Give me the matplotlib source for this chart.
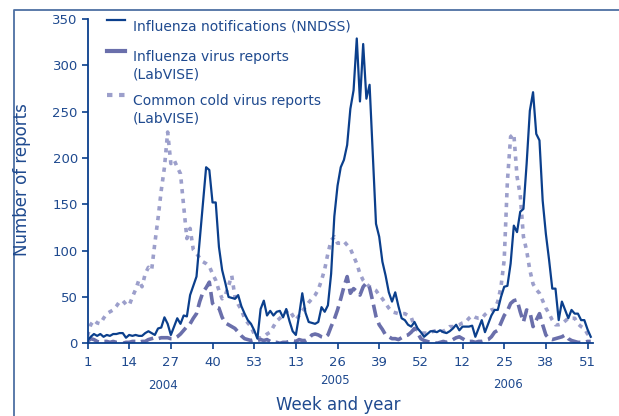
import numpy as np
import matplotlib.pyplot as plt
from matplotlib.lines import Line2D
import matplotlib.transforms as mtransforms

# weekly counts, 2004 weeks 1-53, 2005 weeks 1-53, 2006 weeks 1-52
nndss_2004 = [3, 7, 10, 8, 10, 7, 9, 8, 10, 10, 11, 11, 6, 9, 8, 9, 8, 8, 11, 13,
              11, 9, 16, 17, 28, 21, 9, 18, 27, 21, 30, 29, 52, 62, 72, 111, 150, 190, 187, 152,
              152, 104, 79, 65, 50, 49, 48, 52, 40, 32, 25, 21, 14]
nndss_2005 = [5, 37, 46, 30, 35, 30, 34, 35, 28, 37, 24, 13, 9, 30, 54, 33, 23, 22, 21, 23,
              39, 34, 41, 75, 137, 170, 190, 198, 214, 253, 273, 329, 261, 323, 264, 279, 205, 129, 115, 88,
              73, 55, 45, 55, 40, 27, 25, 20, 18, 23, 16, 12, 7]
nndss_2006 = [10, 13, 13, 12, 14, 12, 11, 13, 16, 20, 14, 18, 18, 18, 19, 7, 16, 25, 12, 21,
              30, 36, 36, 50, 61, 62, 86, 127, 120, 142, 145, 194, 251, 271, 226, 219, 154, 118, 90, 59,
              59, 25, 45, 36, 27, 36, 32, 32, 25, 25, 15, 7]

flu_2004 = [2, 5, 4, 2, 1, 2, 2, 1, 2, 1, 1, 0, 1, 1, 2, 2, 1, 2, 2, 4,
            5, 6, 5, 6, 6, 6, 5, 5, 7, 10, 14, 18, 21, 27, 32, 45, 55, 60, 66, 43,
            39, 38, 28, 22, 20, 18, 16, 12, 8, 5, 4, 3, 4]
flu_2005 = [3, 4, 3, 4, 2, 1, 1, 0, 1, 1, 2, 3, 2, 4, 3, 3, 5, 9, 10, 9,
            7, 6, 9, 18, 26, 36, 48, 61, 72, 54, 59, 56, 52, 61, 65, 60, 45, 29, 20, 15,
            9, 7, 5, 5, 4, 6, 8, 9, 12, 16, 11, 5, 3]
flu_2006 = [2, 1, 1, 0, 1, 2, 1, 2, 4, 6, 7, 5, 3, 2, 2, 1, 2, 2, 3, 4,
            7, 12, 14, 22, 30, 35, 43, 46, 47, 34, 23, 36, 34, 18, 25, 32, 20, 9, 5, 4,
            5, 6, 7, 9, 5, 3, 2, 1, 1, 1, 2, 2]

cold_2004 = [8, 20, 25, 22, 21, 27, 32, 34, 36, 40, 45, 46, 42, 41, 50, 58, 68, 61, 75, 82,
             79, 108, 135, 165, 190, 228, 194, 198, 190, 183, 148, 113, 124, 101, 97, 92, 88, 86, 83, 75,
             68, 57, 48, 52, 62, 73, 50, 42, 36, 27, 22, 18, 10]
cold_2005 = [7, 5, 7, 10, 12, 18, 24, 27, 30, 34, 36, 30, 25, 30, 35, 39, 44, 48, 52, 58,
             68, 80, 97, 111, 115, 108, 108, 110, 106, 102, 94, 86, 75, 68, 64, 61, 59, 57, 52, 48,
             43, 38, 34, 33, 32, 32, 32, 30, 28, 18, 14, 11, 11]
cold_2006 = [11, 12, 13, 14, 13, 13, 15, 18, 18, 19, 20, 22, 23, 27, 30, 28, 27, 27, 31, 34,
             36, 37, 45, 61, 90, 175, 223, 226, 180, 160, 115, 100, 79, 64, 58, 54, 46, 38, 32, 25,
             20, 20, 21, 24, 27, 27, 27, 21, 18, 16, 10, 7]

tick_labels = ['1', '14', '27', '40', '53', '13', '26', '39', '52', '12', '25', '38', '51']
years = ['2004', '2005', '2006']

nndss = nndss_2004 + nndss_2005 + nndss_2006
flu = flu_2004 + flu_2005 + flu_2006
cold = cold_2004 + cold_2005 + cold_2006
x = np.arange(len(nndss))

dark = '#0b3f8c'
text_col = '#1f4a8f'
flu_col = '#6a6fab'
cold_col = '#9c9fcb'

fig = plt.figure(figsize=(6.19, 4.16), dpi=100)
ax = fig.add_axes([0.1414, 0.1748, 0.8171, 0.7795])

ax.plot(x, cold, color=cold_col, lw=2.6, dashes=(1.2, 1.5))
ax.plot(x, flu, color=flu_col, lw=2.6, dashes=(3.6, 1.6))
ax.plot(x, nndss, color=dark, lw=1.6)

ax.set_xlim(0, 157.8)
ax.set_ylim(0, 350)
ax.set_yticks(range(0, 351, 50))
ax.set_xticks(np.arange(0, 157, 13))
ax.set_xticklabels(tick_labels)

for s in ['top', 'right']:
    ax.spines[s].set_visible(False)
for s in ['left', 'bottom']:
    ax.spines[s].set_color(dark)
    ax.spines[s].set_linewidth(1.3)
ax.tick_params(axis='both', colors=dark, labelcolor=text_col, labelsize=9.5,
               length=4.5, width=1.2, direction='out')
ax.tick_params(axis='x', pad=5)
ax.tick_params(axis='y', pad=2.5)

# year labels under the tick labels
trans = mtransforms.blended_transform_factory(ax.transData, ax.transAxes)
year_pos = [23.6, 77.2, 131.2]
year_y = [-0.129, -0.116, -0.126]
for yr, px, py in zip(years, year_pos, year_y):
    ax.text(px, py, yr, transform=trans, ha='center', va='center',
            fontsize=8.5, color=text_col)

fig.text(22 / 619, 1 - 180 / 416, 'Number of reports', rotation=90,
         ha='center', va='center', fontsize=12, color=text_col)
fig.text(338 / 619, 1 - 405 / 416, 'Week and year',
         ha='center', va='center', fontsize=12, color=text_col)

# legend drawn by hand so the keys sit on the first line of each entry
keys = [
    dict(color=dark, lw=1.6, ls='-'),
    dict(color=flu_col, lw=3.0, ls='-'),
    dict(color=cold_col, lw=3.0, dashes=(1.3, 1.6)),
]
labels = ['Influenza notifications (NNDSS)',
          'Influenza virus reports\n(LabVISE)',
          'Common cold virus reports\n(LabVISE)']
key_y = [0.997, 0.901, 0.766]
for kw, lab, ky in zip(keys, labels, key_y):
    ax.add_line(Line2D([0.0386, 0.074], [ky, ky], transform=ax.transAxes,
                       clip_on=False, **kw))
    ax.text(0.09, ky + 0.003, lab, transform=ax.transAxes, ha='left', va='top',
            fontsize=10, color=text_col, linespacing=1.35)

# page frame: only the top and left edges fall inside the picture
fx, fy = 14 / 619, 1 - 10 / 416
fig.lines.append(Line2D([fx, fx, 1.0], [0.0, fy, fy], transform=fig.transFigure,
                        color='#4d6fa3', lw=1.3))

fig.savefig('out.png', dpi=100)
